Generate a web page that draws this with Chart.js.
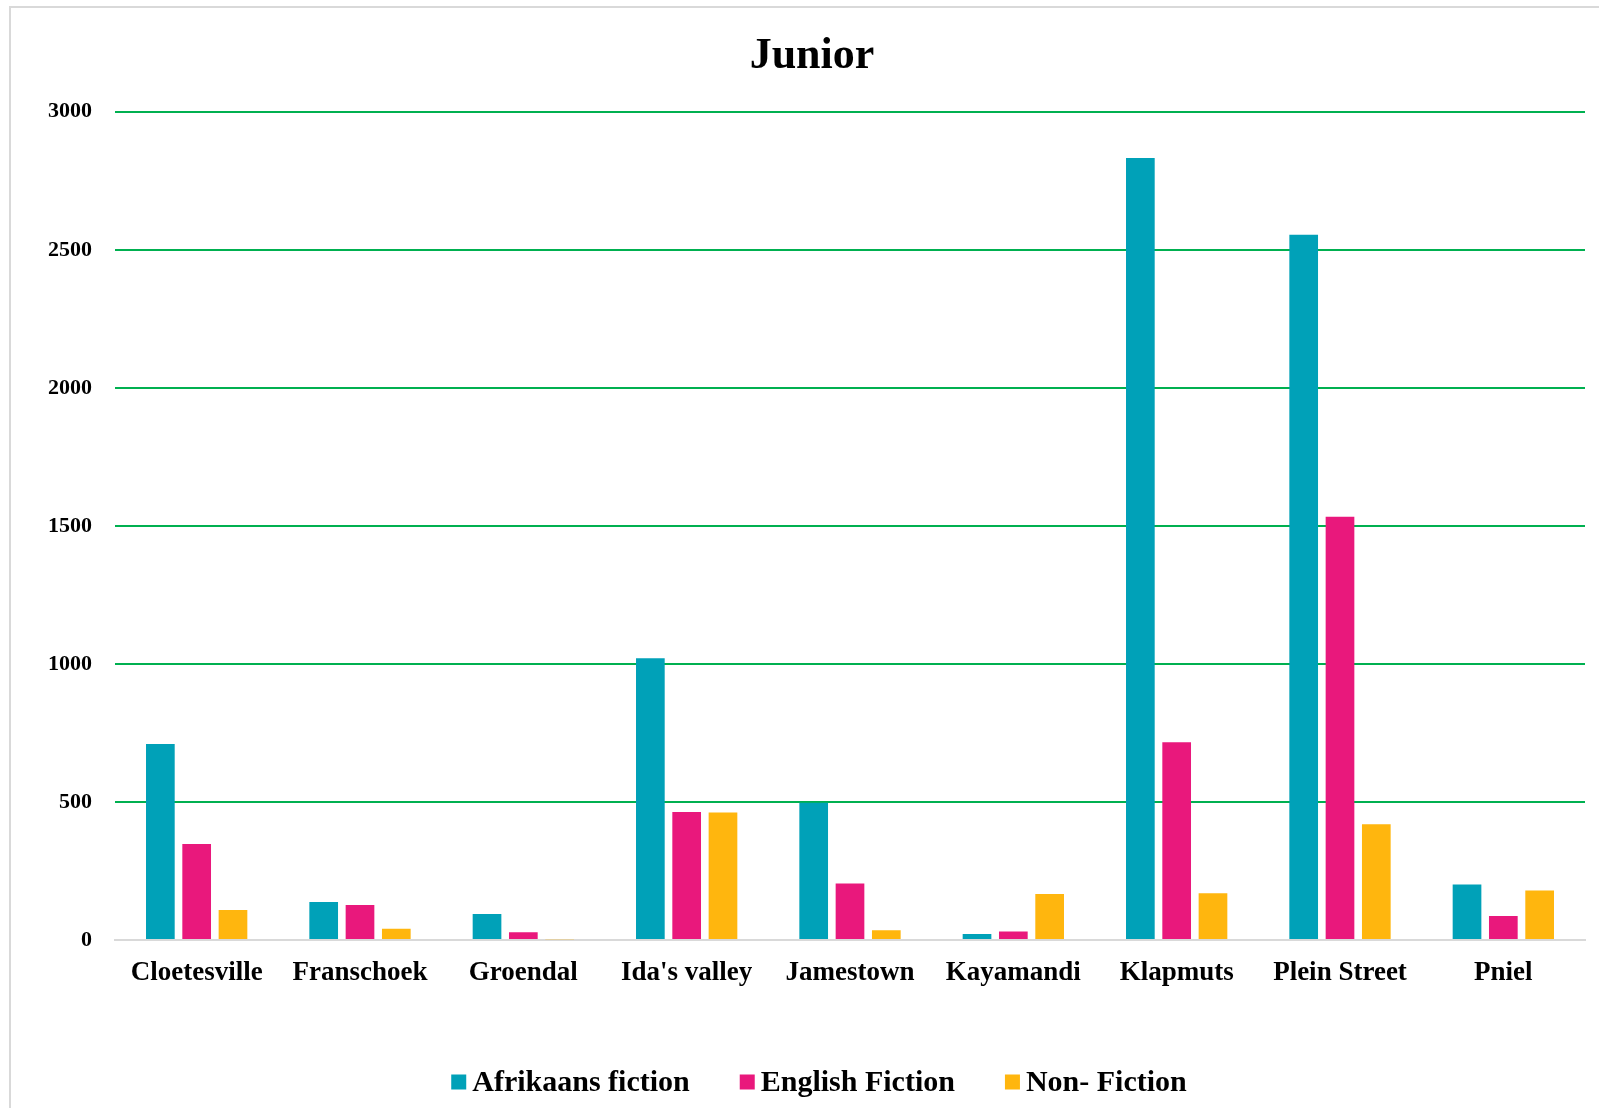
<!DOCTYPE html>
<html>
<head>
<meta charset="utf-8">
<script src="https://cdn.jsdelivr.net/npm/chart.js@4.4.1/dist/chart.umd.min.js"></script>
<style>
  html, body { margin: 0; padding: 0; background: #ffffff; overflow: hidden; }
  #frame { position: absolute; left: 9px; top: 6px; width: 1700px; height: 1200px; border: 2px solid #d9d9d9; box-sizing: border-box; }
  #wrap { position: absolute; left: 0; top: 0; width: 1599px; height: 1108px; }
</style>
</head>
<body>
<div id="frame"></div>
<div id="wrap"><canvas id="c"></canvas></div>
<script>
const categories = ["Cloetesville", "Franschoek", "Groendal", "Ida's valley", "Jamestown", "Kayamandi", "Klapmuts", "Plein Street", "Pniel"];
const seriesNames = ["Afrikaans fiction", "English Fiction", "Non- Fiction"];
const afrikaansFiction = [710, 138, 94, 1021, 497, 22, 2833, 2555, 201];
const englishFiction = [348, 127, 28, 464, 205, 31, 716, 1533, 87];
const nonFiction = [109, 41, 3, 462, 35, 167, 169, 419, 179];
const yTicks = [0, 500, 1000, 1500, 2000, 2500, 3000];
const colors = ["#00A1B8", "#E9187C", "#FFB60E"];

const FONT = '"Liberation Serif", "Times New Roman", serif';

const customLegend = {
  id: 'customLegend',
  afterDraw(chart) {
    const ctx = chart.ctx;
    ctx.save();
    ctx.font = 'bold 30px ' + FONT;
    ctx.textBaseline = 'middle';
    ctx.textAlign = 'left';
    const box = 15, gapBT = 6, gapItems = 50;
    const items = chart.data.datasets.map(d => ({ label: d.label, color: d.backgroundColor, w: ctx.measureText(d.label).width }));
    let total = 0;
    items.forEach((it, i) => { total += box + gapBT + it.w + (i < items.length - 1 ? gapItems : 0); });
    let x = 819 - total / 2;
    const y = 1082;
    items.forEach(it => {
      ctx.fillStyle = it.color;
      ctx.fillRect(x, y - box / 2, box, box);
      x += box + gapBT;
      ctx.fillStyle = '#000000';
      ctx.fillText(it.label, x, y + 1);
      x += it.w + gapItems;
    });
    ctx.restore();
  }
};

new Chart(document.getElementById('c'), {
  type: 'bar',
  data: {
    labels: categories,
    datasets: [
      { label: seriesNames[0], data: afrikaansFiction, backgroundColor: colors[0] },
      { label: seriesNames[1], data: englishFiction, backgroundColor: colors[1] },
      { label: seriesNames[2], data: nonFiction, backgroundColor: colors[2] }
    ]
  },
  options: {
    responsive: true,
    maintainAspectRatio: false,
    animation: false,
    datasets: { bar: { categoryPercentage: 0.667, barPercentage: 0.79 } },
    layout: { padding: { left: 39, right: 14, top: 13, bottom: 108 } },
    plugins: {
      legend: { display: false },
      tooltip: { enabled: false },
      title: {
        display: true,
        text: 'Junior',
        color: '#000000',
        font: { family: FONT, size: 44, weight: 'bold', lineHeight: 1.2 },
        padding: { top: 17, bottom: 29 }
      }
    },
    scales: {
      x: {
        grid: { display: false, drawTicks: false },
        border: { display: true, color: '#d9d9d9', width: 2 },
        ticks: {
          color: '#000000',
          font: { family: FONT, size: 27, weight: 'bold' },
          padding: 17,
          maxRotation: 0,
          autoSkip: false
        },
        afterFit(scale) { scale.height = 60; }
      },
      y: {
        min: 0,
        max: 3000,
        afterBuildTicks(scale) { scale.ticks = yTicks.map(v => ({ value: v })); },
        grid: {
          drawTicks: false,
          lineWidth: 2,
          color: (ctx) => (ctx.tick && ctx.tick.value === 0) ? '#d9d9d9' : '#00B050'
        },
        border: { display: false },
        ticks: {
          color: '#000000',
          font: { family: FONT, size: 22, weight: 'bold' },
          padding: 23,
          callback: (v) => String(v)
        },
        afterFit(scale) { scale.width = 76; }
      }
    }
  },
  plugins: [customLegend]
});
</script>
</body>
</html>
